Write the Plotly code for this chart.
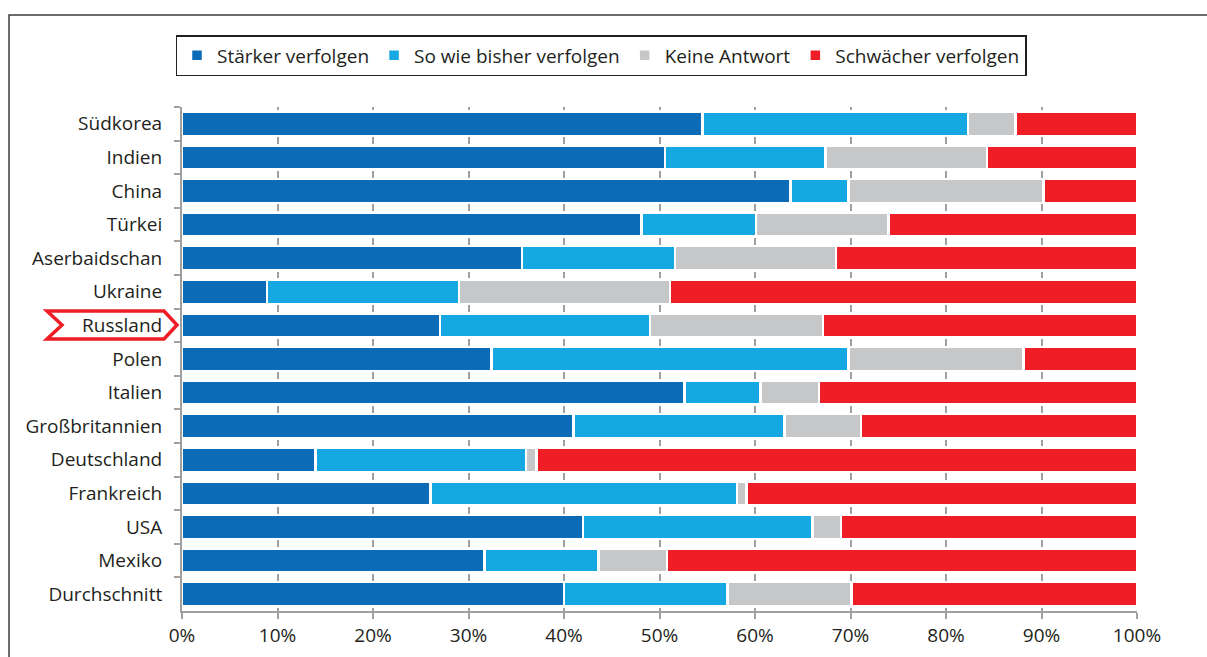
import plotly.graph_objects as go

countries = ["Südkorea", "Indien", "China", "Türkei", "Aserbaidschan", "Ukraine", "Russland",
             "Polen", "Italien", "Großbritannien", "Deutschland", "Frankreich", "USA", "Mexiko",
             "Durchschnitt"]
staerker = [54.5, 50.6, 63.7, 48.1, 35.6, 8.9, 27.0, 32.4, 52.6, 41.0, 14.0, 26.0, 42.0, 31.7, 40.0]
so_wie_bisher = [27.8, 16.8, 6.1, 12.0, 16.0, 20.1, 22.0, 37.4, 8.0, 22.1, 22.0, 32.1, 24.0, 11.9, 17.1]
keine_antwort = [5.0, 16.9, 20.4, 13.9, 16.9, 22.1, 18.1, 18.3, 6.1, 8.0, 1.1, 1.0, 3.0, 7.2, 13.0]
schwaecher = [round(100 - a - b - c, 1) for a, b, c in zip(staerker, so_wie_bisher, keine_antwort)]

series = [
    ("Stärker verfolgen", staerker, "#0b6bb6"),
    ("So wie bisher verfolgen", so_wie_bisher, "#16a9e1"),
    ("Keine Antwort", keine_antwort, "#c6c7c8"),
    ("Schwächer verfolgen", schwaecher, "#ee1d26"),
]

FONT = "Open Sans"
TXT = "#231f20"
GRID = "#a0a0a0"
FS = 19

fig = go.Figure()
for name, vals, col in series:
    fig.add_trace(go.Bar(
        y=countries, x=vals, name=name, orientation="h",
        marker=dict(color=col, line=dict(color="white", width=2.5)),
        hovertemplate="%{y}: %{x}%<extra>" + name + "</extra>",
    ))

W, H = 1207, 657
L, R, T, B = 182, 70, 107, 46
pw, ph = W - L - R, H - T - B

def px(x):
    return (x - L) / pw

def py(y):
    return 1 - (y - T) / ph

shapes = [
    # outer frame (extends past right and bottom edges)
    dict(type="rect", xref="paper", yref="paper", x0=px(9), x1=px(1215), y0=py(665), y1=py(15),
         line=dict(color="#3c3c3c", width=1.5), fillcolor="rgba(0,0,0,0)", layer="below"),
    # Russland highlight chevron
    dict(type="path", xref="paper", yref="paper",
         path="M {a},{t} L {b},{t} L {c},{m} L {b},{bt} L {a},{bt} L {d},{m} Z".format(
             a=px(47), b=px(164), c=px(177), d=px(62), t=py(311), m=py(325), bt=py(339)),
         line=dict(color="#ee1d26", width=3.5), fillcolor="rgba(0,0,0,0)", layer="above"),
]

fig.update_layout(
    width=W, height=H,
    barmode="stack", bargap=0.28,
    margin=dict(l=L, r=R, t=T, b=B, autoexpand=False),
    paper_bgcolor="white", plot_bgcolor="white",
    font=dict(family=FONT, size=FS, color=TXT),
    legend=dict(orientation="h", x=px(601), xanchor="center", y=py(35), yanchor="top",
                bordercolor="#231f20", borderwidth=1.5, font=dict(size=FS, color=TXT),
                traceorder="normal", itemwidth=30, bgcolor="white"),
    shapes=shapes,
    showlegend=True,
)
fig.update_xaxes(range=[0, 100], tickvals=list(range(0, 101, 10)),
                 ticktext=[f"{v}%" for v in range(0, 101, 10)],
                 showgrid=True, gridcolor=GRID, gridwidth=2,
                 showline=True, linecolor=GRID, linewidth=2,
                 ticks="outside", ticklen=6, tickwidth=2, tickcolor=GRID,
                 zeroline=False, tickfont=dict(size=FS, color=TXT), fixedrange=True)
fig.update_yaxes(autorange="reversed", categoryorder="array", categoryarray=countries,
                 showline=True, linecolor=GRID, linewidth=2,
                 ticks="outside", tickson="boundaries", ticklen=6, tickwidth=2, tickcolor=GRID,
                 showgrid=False, ticklabelstandoff=14,
                 tickfont=dict(size=FS, color=TXT), fixedrange=True)

fig.write_html("out.html", config={"displayModeBar": False},
               post_script="document.body.style.margin='0px';")
